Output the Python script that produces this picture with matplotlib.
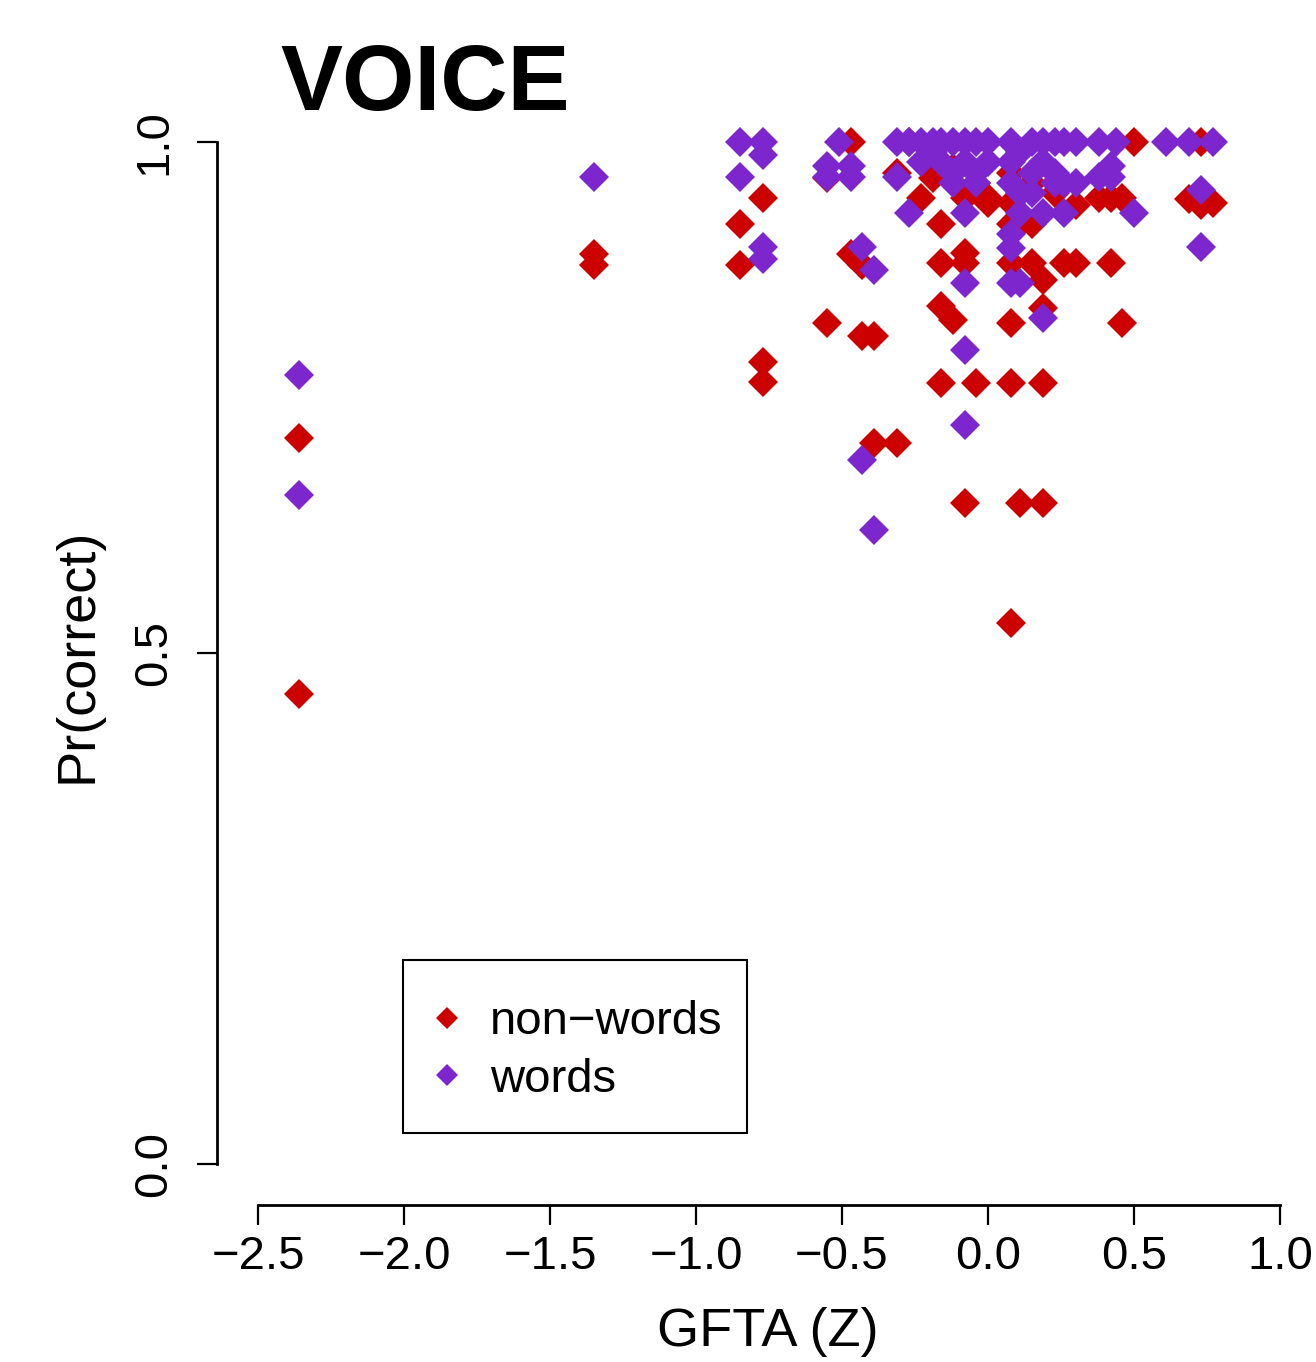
import numpy as np
import matplotlib
matplotlib.use('Agg')
import matplotlib.pyplot as plt
from matplotlib.patches import Rectangle

plt.rcParams['font.family'] = ['Liberation Sans', 'DejaVu Sans']

# non-words (red) : GFTA z score, proportion correct
nw_x = [-2.36, -2.36, -1.35, -1.35, -0.85, -0.85, -0.77, -0.77, -0.77,
        -0.55, -0.55, -0.47, -0.47, -0.43, -0.43, -0.39, -0.39, -0.31, -0.31,
        -0.27, -0.23, -0.19, -0.16, -0.16, -0.16, -0.16, -0.12, -0.12,
        -0.08, -0.08, -0.08, -0.08, -0.04, -0.04, 0.0, 0.0,
        0.08, 0.08, 0.08, 0.08, 0.08, 0.08, 0.08, 0.11, 0.11,
        0.15, 0.15, 0.15, 0.19, 0.19, 0.19, 0.19, 0.23,
        0.26, 0.30, 0.30, 0.38, 0.42, 0.42, 0.46, 0.46, 0.50,
        0.69, 0.73, 0.73, 0.77]
nw_y = [0.71, 0.46, 0.89, 0.88, 0.92, 0.88, 0.945, 0.785, 0.765,
        0.965, 0.823, 1.0, 0.89, 0.88, 0.81, 0.81, 0.705, 0.705, 0.97,
        1.0, 0.945, 0.965, 0.92, 0.882, 0.84, 0.764, 0.826, 0.975,
        0.945, 0.891, 0.882, 0.647, 0.764, 0.96, 0.945, 0.94,
        0.94, 0.92, 0.882, 0.823, 0.764, 0.529, 0.97, 0.647, 0.92,
        0.92, 0.882, 0.96, 0.865, 0.838, 0.764, 0.647, 0.95,
        0.882, 0.882, 0.938, 0.945, 0.945, 0.882, 0.823, 0.945, 1.0,
        0.944, 1.0, 0.938, 0.94]

# words (purple)
w_x = [-2.36, -2.36, -1.35, -0.85, -0.85, -0.77, -0.77, -0.77, -0.77,
       -0.55, -0.55, -0.51, -0.47, -0.47, -0.43, -0.43, -0.39, -0.39,
       -0.31, -0.31, -0.27, -0.27, -0.23, -0.23, -0.19, -0.19, -0.16, -0.16,
       -0.12, -0.12, -0.12, -0.08, -0.08, -0.08, -0.08, -0.08, -0.08,
       -0.04, -0.04, -0.04, 0.0, 0.0,
       0.08, 0.08, 0.08, 0.08, 0.08, 0.08, 0.11, 0.11, 0.11, 0.11,
       0.15, 0.15, 0.15, 0.19, 0.19, 0.19, 0.19, 0.23, 0.23, 0.23,
       0.26, 0.26, 0.26, 0.30, 0.30, 0.38, 0.38, 0.42, 0.42, 0.44,
       0.50, 0.61, 0.69, 0.77, 0.73, 0.73]
w_y = [0.772, 0.655, 0.966, 1.0, 0.966, 1.0, 0.987, 0.897, 0.886,
       0.977, 0.966, 1.0, 0.977, 0.966, 0.897, 0.689, 0.875, 0.62,
       1.0, 0.966, 1.0, 0.931, 1.0, 0.98, 1.0, 0.99, 1.0, 0.98,
       1.0, 0.97, 0.96, 1.0, 0.98, 0.931, 0.862, 0.796, 0.723,
       1.0, 0.97, 0.96, 1.0, 0.98,
       1.0, 0.98, 0.96, 0.91, 0.896, 0.862, 0.99, 0.95, 0.931, 0.862,
       1.0, 0.97, 0.95, 1.0, 0.98, 0.931, 0.828, 1.0, 0.97, 0.96,
       1.0, 0.96, 0.931, 1.0, 0.96, 1.0, 0.966, 0.977, 0.966, 1.0,
       0.931, 1.0, 1.0, 1.0, 0.953, 0.897]

x_ticks = [-2.5, -2.0, -1.5, -1.0, -0.5, 0.0, 0.5, 1.0]
y_ticks = [0.0, 0.5, 1.0]

red = '#CD0000'
purple = '#7D26CD'

W, H = 1316, 1362
fig = plt.figure(figsize=(W / 100, H / 100), dpi=100)
ax = fig.add_axes([217 / W, 1 - 1205 / H, (1290 - 217) / W, (1205 - 120) / H])

ax.plot(nw_x, nw_y, linestyle='none', marker='D', ms=15, mew=0, color=red,
        label='non\u2212words', clip_on=False)
ax.plot(w_x, w_y, linestyle='none', marker='D', ms=15, mew=0, color=purple,
        label='words', clip_on=False)

ax.set_xlim(-2.5 - 41 / 292, 1.0 + 10 / 292)
ax.set_ylim(-41 / 1022, 1.0 + 22 / 1022)

for s in ['top', 'right']:
    ax.spines[s].set_visible(False)
ax.spines['left'].set_bounds(0, 1)
ax.spines['bottom'].set_bounds(-2.5, 1.0)
ax.spines['left'].set_linewidth(2)
ax.spines['bottom'].set_linewidth(2)

ax.set_xticks(x_ticks)
ax.set_xticklabels([f'{v:.1f}'.replace('-', '\u2212') for v in x_ticks])
ax.set_yticks(y_ticks)
ax.set_yticklabels([f'{v:.1f}' for v in y_ticks], rotation=90, va='center')
ax.tick_params(axis='both', length=14.5, width=1.6, labelsize=34)
ax.tick_params(axis='x', pad=7)
ax.tick_params(axis='y', pad=15)

ax.set_xlabel('GFTA (Z)', fontsize=39, va='center')
ax.xaxis.set_label_coords((768 - 217) / (1290 - 217), (1205 - 1332) / (1205 - 120))
ax.set_ylabel('Pr(correct)', fontsize=39, va='center')
ax.yaxis.set_label_coords((78 - 217) / (1290 - 217), (1205 - 655) / (1205 - 120))

fig.text(280 / W, 1 - 110 / H, 'VOICE', fontsize=67, fontweight='bold',
         ha='left', va='baseline')

# legend box drawn like R's legend frame
fig.patches.append(Rectangle((403 / W, 1 - 1133 / H), (747 - 403) / W, (1133 - 960) / H,
                             transform=fig.transFigure, fill=False,
                             edgecolor='black', linewidth=1.5))
leg = ax.legend(loc='upper left', bbox_to_anchor=(400 / W, 1 - 972 / H),
                bbox_transform=fig.transFigure, borderaxespad=0,
                fontsize=34, markerscale=0.75, frameon=False,
                borderpad=0.6, handlelength=0.8,
                handletextpad=0.5, labelspacing=0.28)

fig.savefig('out.png', dpi=100)
